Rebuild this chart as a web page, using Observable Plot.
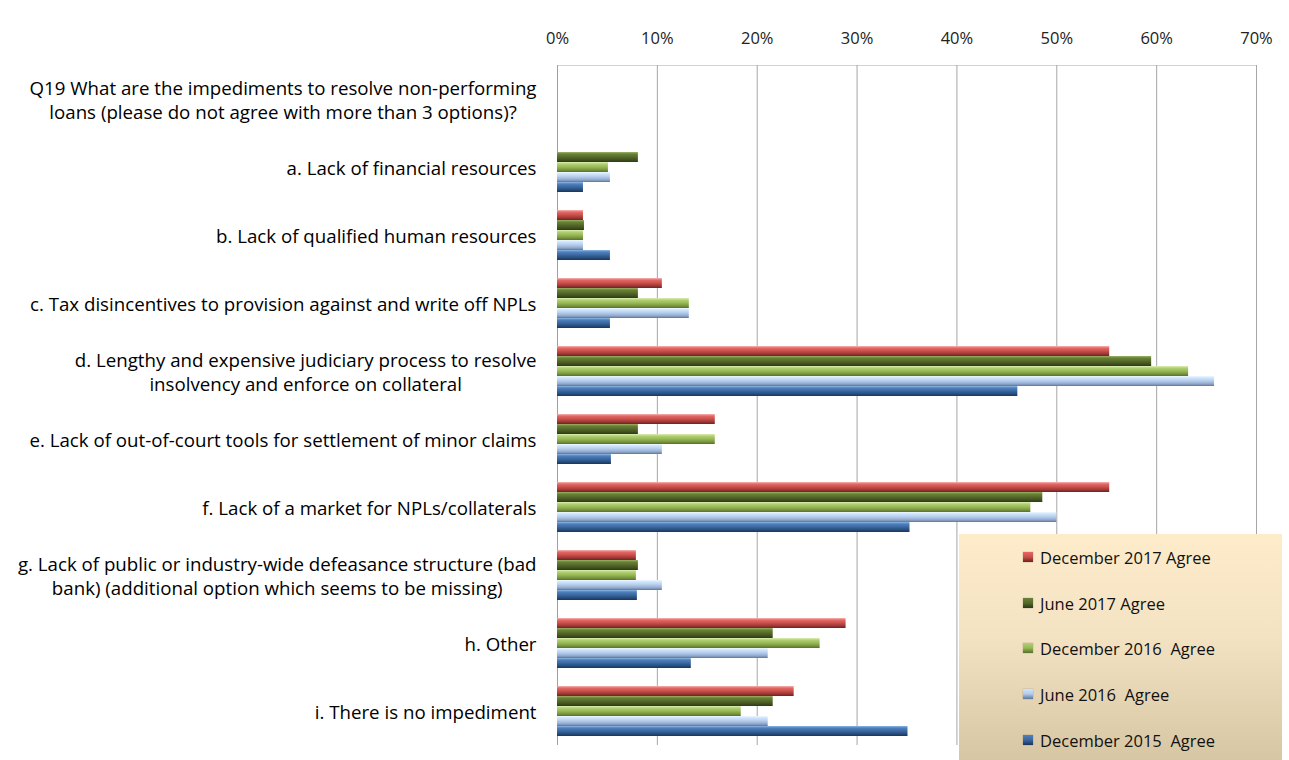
<!DOCTYPE html>
<html><head><meta charset="utf-8">
<script src="https://cdn.jsdelivr.net/npm/d3@7"></script>
<script src="https://cdn.jsdelivr.net/npm/@observablehq/plot@0.6"></script>
<style>
body{margin:0;background:#fff;overflow:hidden;font-family:"Open Sans", sans-serif}
#wrap{position:relative;width:1289px;height:760px}
#wrap svg{position:absolute;left:0;top:0}
#legend{position:absolute;left:959px;top:534px;width:323px;height:226px;background:linear-gradient(#fdebca,#f4e3c3 45%,#d7c6a3);}
.item{position:absolute;left:64px;height:20px;margin-top:-10px;font-size:16.5px;white-space:pre;color:#111;display:flex;align-items:center}
.sw{width:10px;height:10px;margin-right:7px;box-shadow:0 0 1px rgba(0,0,0,.4)}
</style></head><body><div id="wrap"><div id="legend"></div></div>
<script>
// ---- data ----
const rowKeys = ["Q19", "a", "b", "c", "d", "e", "f", "g", "h", "i"];
const rowLabels = [
  "Q19 What are the impediments to resolve non-performing\nloans (please do not agree with more than 3 options)?",
  "a. Lack of financial resources",
  "b. Lack of qualified human resources",
  "c. Tax disincentives to provision against and write off NPLs",
  "d. Lengthy and expensive judiciary process to resolve\ninsolvency and enforce on collateral",
  "e. Lack of out-of-court tools for settlement of minor claims",
  "f. Lack of a market for NPLs/collaterals",
  "g. Lack of public or industry-wide defeasance structure (bad\nbank) (additional option which seems to be missing)",
  "h. Other",
  "i. There is no impediment"
];
const itemKeys = ["a", "b", "c", "d", "e", "f", "g", "h", "i"];
const seriesNames = ["December 2017 Agree", "June 2017 Agree", "December 2016  Agree", "June 2016  Agree", "December 2015  Agree"];
const dec2017 = [0, 2.6, 10.5, 55.3, 15.8, 55.3, 7.9, 28.9, 23.7];
const jun2017 = [8.1, 2.7, 8.1, 59.5, 8.1, 48.6, 8.1, 21.6, 21.6];
const dec2016 = [5.1, 2.6, 13.2, 63.2, 15.8, 47.4, 7.9, 26.3, 18.4];
const jun2016 = [5.3, 2.6, 13.2, 65.8, 10.5, 50.0, 10.5, 21.1, 21.1];
const dec2015 = [2.6, 5.3, 5.3, 46.1, 5.4, 35.3, 8.0, 13.4, 35.1];
const xTicks = [0, 10, 20, 30, 40, 50, 60, 70];

// ---- styling ----
const bevels = [
  ["#f8b4b2", "#e46966", "#c94f4b", "#9a3633", "#6d2220"],
  ["#9bb167", "#6a8236", "#56692b", "#40501f", "#2c3815"],
  ["#dcefb4", "#b2d072", "#98b857", "#77933c", "#56702a"],
  ["#eef7ff", "#cfe3fb", "#b3cbea", "#8ea6c9", "#5e7598"],
  ["#8db5e6", "#4f81bd", "#3a67a0", "#274b7a", "#1a3456"]
];
const stopsAt = [0, 0.2, 0.5, 0.8, 1];

const allSeries = [dec2017, jun2017, dec2016, jun2016, dec2015];
const data = [];
itemKeys.forEach((k, i) => allSeries.forEach((arr, s) => data.push({row: k, series: seriesNames[s], value: arr[i]})));

// label font sized so the longest line spans like the original; blocks centered, right-aligned at the axis
const FAMILY = "Open Sans";
const ctx = document.createElement("canvas").getContext("2d");
ctx.font = `18px "${FAMILY}"`;
const refW = ctx.measureText(rowLabels[0].split("\n")[0]).width;
const labelSize = Math.round(18 * 507 / refW * 10) / 10;
ctx.font = `${labelSize}px "${FAMILY}"`;
const blockW = rowLabels.map(t => Math.max(...t.split("\n").map(l => ctx.measureText(l).width)));
const gap = 21;

const labelMarks = rowKeys.map((k, i) => Plot.text([k], {
  fy: d => d, text: () => rowLabels[i], frameAnchor: "left", textAnchor: "middle",
  dx: -(gap + blockW[i] / 2), lineHeight: 24 / labelSize, fontSize: labelSize, fill: "#000", fontFamily: FAMILY
}));

const chart = Plot.plot({
  width: 1289, height: 760,
  marginLeft: 557, marginRight: 33, marginTop: 62, marginBottom: 13,
  x: {domain: [0, 70], axis: null},
  y: {domain: seriesNames, paddingInner: 0.05, paddingOuter: 0.73, axis: null},
  fy: {domain: rowKeys, padding: 0, axis: null},
  color: {domain: seriesNames, range: seriesNames.map((s, i) => `url(#bevel${i})`)},
  style: {fontFamily: `"${FAMILY}", sans-serif`, fontSize: "15px", color: "#222", background: "transparent"},
  marks: [
    Plot.gridX({ticks: xTicks, stroke: "#a6a6a6", strokeOpacity: 1}),
    Plot.ruleX([0], {stroke: "#a0a0a0"}),
    Plot.barX([0], {fy: () => "Q19", x1: 0, x2: 70, insetBottom: 67.5, fill: "#a6a6a6"}),
    Plot.axisX({anchor: "top", ticks: xTicks, tickFormat: d => d + "%", tickSize: 0, tickPadding: 22, fontSize: 16.5, fill: "#222", label: null}),
    Plot.barX(data, {fy: "row", y: "series", x: "value", fill: "series"}),
    ...labelMarks
  ]
});

const defs = d3.select(chart).insert("defs", ":first-child");
bevels.forEach((cols, i) => {
  const g = defs.append("linearGradient").attr("id", `bevel${i}`).attr("x1", 0).attr("y1", 0).attr("x2", 0).attr("y2", 1);
  cols.forEach((c, j) => g.append("stop").attr("offset", stopsAt[j]).attr("stop-color", c));
});
document.getElementById("wrap").prepend(chart);

// legend
const legend = document.getElementById("legend");
const itemY = [23, 69, 114, 160, 206];
seriesNames.forEach((s, i) => {
  const it = document.createElement("div");
  it.className = "item";
  it.style.top = itemY[i] + "px";
  const sw = document.createElement("span");
  sw.className = "sw";
  sw.style.background = `linear-gradient(${bevels[i][1]}, ${bevels[i][2]} 50%, ${bevels[i][4]})`;
  const tx = document.createElement("span");
  tx.textContent = s;
  it.append(sw, tx);
  legend.append(it);
});
</script>
</body></html>
